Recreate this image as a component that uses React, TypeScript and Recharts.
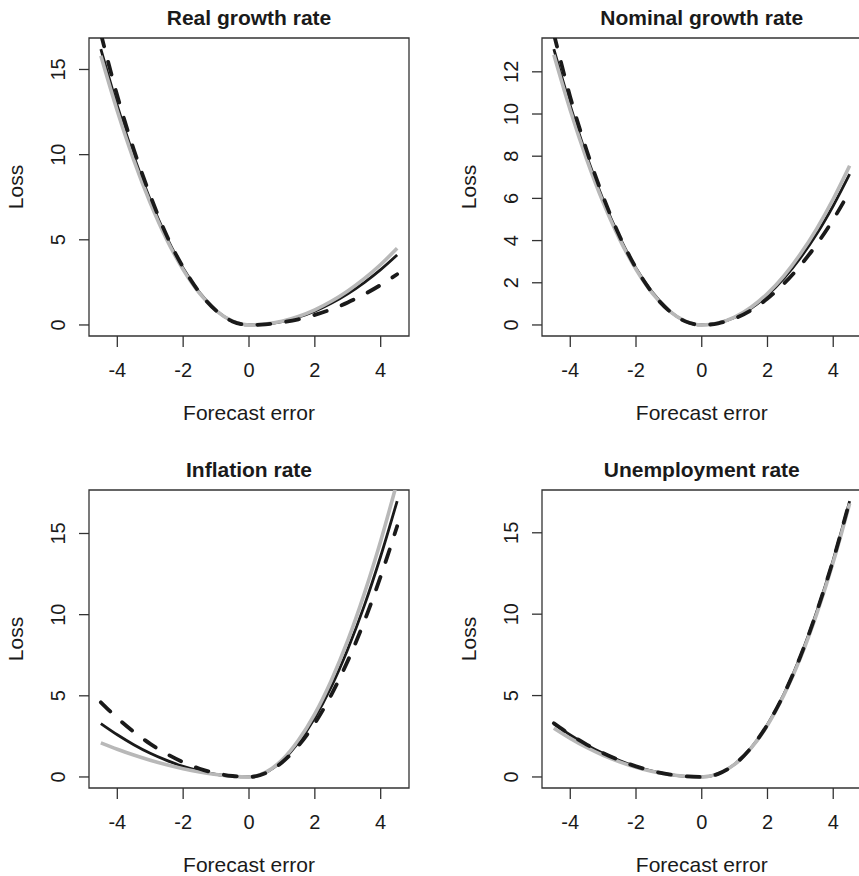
import React from "react";
import {
  LineChart,
  Line,
  XAxis,
  YAxis,
  ReferenceArea,
} from "recharts";

// forecast error grid (x axis)
const errors = [-4.5, -4, -3.5, -3, -2.5, -2, -1.5, -1, -0.5, 0, 0.5, 1, 1.5, 2, 2.5, 3, 3.5, 4, 4.5];
const xTicks = [-4, -2, 0, 2, 4];

// Real growth rate
const realBlack = [16.2, 12.88, 9.92, 7.35, 5.15, 3.33, 1.9, 0.86, 0.22, 0, 0.05, 0.2, 0.46, 0.81, 1.27, 1.83, 2.49, 3.25, 4.11];
const realGray = [15.8, 12.56, 9.68, 7.17, 5.02, 3.25, 1.85, 0.84, 0.22, 0, 0.06, 0.22, 0.5, 0.89, 1.39, 2.0, 2.72, 3.55, 4.5];
const realDashed = [17.1, 13.45, 10.3, 7.6, 5.25, 3.38, 1.9, 0.84, 0.21, 0, 0.04, 0.15, 0.33, 0.59, 0.92, 1.32, 1.8, 2.35, 2.98];
const realTicks = [0, 5, 10, 15];

// Nominal growth rate
const nomBlack = [13.08, 10.4, 8.01, 5.93, 4.16, 2.69, 1.54, 0.7, 0.18, 0, 0.09, 0.35, 0.79, 1.41, 2.21, 3.18, 4.32, 5.65, 7.15];
const nomGray = [12.81, 10.18, 7.85, 5.81, 4.07, 2.64, 1.5, 0.68, 0.18, 0, 0.09, 0.37, 0.84, 1.49, 2.33, 3.36, 4.57, 5.97, 7.55];
const nomDashed = [13.8, 10.8, 8.27, 6.08, 4.22, 2.7, 1.52, 0.68, 0.17, 0, 0.08, 0.31, 0.7, 1.25, 1.96, 2.82, 3.83, 5.0, 6.34];
const nomTicks = [0, 2, 4, 6, 8, 10, 12];

// Inflation rate
const infBlack = [3.29, 2.6, 1.99, 1.46, 1.02, 0.65, 0.37, 0.16, 0.04, 0, 0.26, 0.98, 2.11, 3.64, 5.56, 7.87, 10.54, 13.6, 17.0];
const infGray = [2.1, 1.71, 1.35, 1.03, 0.75, 0.51, 0.31, 0.15, 0.045, 0, 0.28, 1.04, 2.26, 3.89, 5.95, 8.41, 11.28, 14.54, 18.18];
const infDashed = [4.6, 3.63, 2.78, 2.04, 1.42, 0.91, 0.51, 0.23, 0.06, 0, 0.24, 0.89, 1.92, 3.31, 5.06, 7.15, 9.58, 12.36, 15.45];
const infTicks = [0, 5, 10, 15];

// Unemployment rate
const unBlack = [3.26, 2.58, 1.97, 1.45, 1.01, 0.64, 0.36, 0.16, 0.04, 0, 0.19, 0.78, 1.79, 3.22, 5.09, 7.4, 10.16, 13.34, 16.95];
const unGray = [3.0, 2.37, 1.81, 1.33, 0.93, 0.59, 0.33, 0.15, 0.04, 0, 0.19, 0.77, 1.77, 3.18, 5.03, 7.3, 10.03, 13.2, 16.8];
const unDashed = [3.3, 2.6, 1.99, 1.46, 1.02, 0.65, 0.36, 0.16, 0.04, 0, 0.19, 0.78, 1.79, 3.22, 5.09, 7.4, 10.16, 13.34, 16.95];
const unTicks = [0, 5, 10, 15];

const FONT = "'Liberation Sans', Arial, Helvetica, sans-serif";
const INK = "#1a1a1a";
const BOX = "#333333";
const GRAY = "#b8b8b8";

const xPad = (errors[errors.length - 1] - errors[0]) * 0.04;
const xDomain = [errors[0] - xPad, errors[errors.length - 1] + xPad];

interface PanelProps {
  title: string;
  black: number[];
  gray: number[];
  dashed: number[];
  yTicks: number[];
  left: number;
  top: number;
  width: number;
  plotLeft: number;
  plotTop: number;
  plotRight: number;
  plotBottom: number;
}

const YTick = (props: any) => {
  const { x, y, payload } = props;
  return (
    <text
      x={x}
      y={y}
      dy="0.36em"
      textAnchor="middle"
      transform={`rotate(-90, ${x}, ${y})`}
      fontSize={20}
      fontFamily={FONT}
      fill={INK}
    >
      {payload.value}
    </text>
  );
};

function Panel(p: PanelProps) {
  const height = 438;
  const data = errors.map((e, i) => ({
    x: e,
    black: p.black[i],
    gray: p.gray[i],
    dashed: p.dashed[i],
  }));
  const yMax = Math.max(...p.black);
  const yDomain = [-0.04 * yMax, yMax * 1.04];

  return (
    <div style={{ position: "absolute", left: p.left, top: p.top }}>
      <LineChart
        width={p.width}
        height={height}
        data={data}
        margin={{
          top: p.plotTop,
          left: p.plotLeft - 80,
          right: p.width - p.plotRight,
          bottom: height - p.plotBottom - 86,
        }}
      >
        <XAxis
          dataKey="x"
          type="number"
          domain={xDomain}
          ticks={xTicks}
          allowDataOverflow
          axisLine={false}
          tickLine={{ stroke: BOX, strokeWidth: 1.3 }}
          tickSize={11}
          tickMargin={16}
          height={86}
          tick={{ fill: INK, fontSize: 20, fontFamily: FONT }}
          label={{
            value: "Forecast error",
            position: "insideBottom",
            offset: 2,
            fontSize: 21,
            fontFamily: FONT,
            fill: INK,
          }}
        />
        <YAxis
          type="number"
          domain={yDomain}
          ticks={p.yTicks}
          allowDataOverflow
          axisLine={false}
          tickLine={{ stroke: BOX, strokeWidth: 1.3 }}
          tickSize={10}
          tickMargin={21}
          width={80}
          tick={<YTick />}
          label={{
            value: "Loss",
            angle: -90,
            position: "insideLeft",
            offset: 7,
            fontSize: 21,
            fontFamily: FONT,
            fill: INK,
            style: { textAnchor: "middle" },
          }}
        />
        <Line
          dataKey="black"
          type="monotone"
          stroke={INK}
          strokeWidth={2.8}
          dot={false}
          isAnimationActive={false}
        />
        <Line
          dataKey="gray"
          type="monotone"
          stroke={GRAY}
          strokeWidth={3.6}
          dot={false}
          isAnimationActive={false}
        />
        <Line
          dataKey="dashed"
          type="monotone"
          stroke={INK}
          strokeWidth={3.8}
          strokeDasharray="13 16"
          strokeLinecap="round"
          dot={false}
          isAnimationActive={false}
        />
        <ReferenceArea
          x1={xDomain[0]}
          x2={xDomain[1]}
          y1={yDomain[0]}
          y2={yDomain[1]}
          fill="none"
          stroke={BOX}
          strokeWidth={1.3}
          ifOverflow="visible"
          label={{
            value: p.title,
            position: "top",
            offset: 13,
            fontSize: 21,
            fontWeight: "bold",
            fontFamily: FONT,
            fill: INK,
          }}
        />
      </LineChart>
    </div>
  );
}

export default function App() {
  return (
    <div
      style={{
        position: "absolute",
        left: 0,
        top: 0,
        width: 859,
        height: 876,
        overflow: "hidden",
        background: "#ffffff",
      }}
    >
      <Panel
        title="Real growth rate"
        black={realBlack}
        gray={realGray}
        dashed={realDashed}
        yTicks={realTicks}
        left={0}
        top={0}
        width={430}
        plotLeft={89}
        plotTop={38}
        plotRight={409}
        plotBottom={336}
      />
      <Panel
        title="Nominal growth rate"
        black={nomBlack}
        gray={nomGray}
        dashed={nomDashed}
        yTicks={nomTicks}
        left={429}
        top={0}
        width={436}
        plotLeft={113}
        plotTop={38}
        plotRight={432.5}
        plotBottom={336}
      />
      <Panel
        title="Inflation rate"
        black={infBlack}
        gray={infGray}
        dashed={infDashed}
        yTicks={infTicks}
        left={0}
        top={438}
        width={430}
        plotLeft={89}
        plotTop={52}
        plotRight={409}
        plotBottom={350}
      />
      <Panel
        title="Unemployment rate"
        black={unBlack}
        gray={unGray}
        dashed={unDashed}
        yTicks={unTicks}
        left={429}
        top={438}
        width={436}
        plotLeft={113}
        plotTop={52}
        plotRight={432.5}
        plotBottom={350}
      />
    </div>
  );
}
